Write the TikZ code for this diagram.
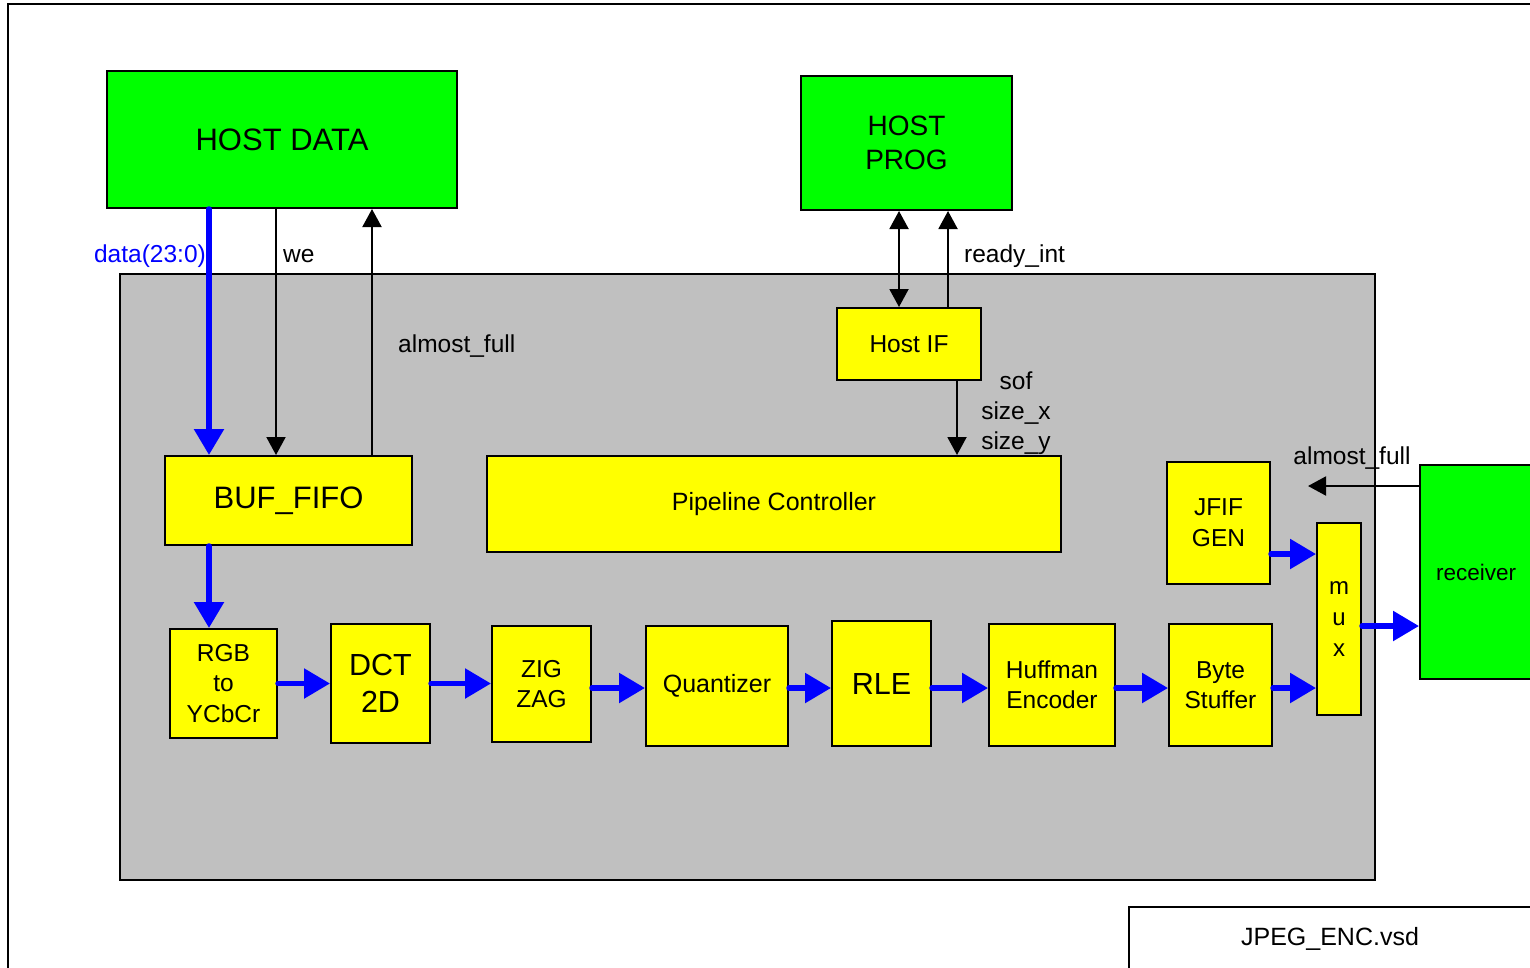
\documentclass[tikz,border=0pt]{standalone}
\usepackage{fontspec}
\setmainfont{Liberation Sans}
\usetikzlibrary{arrows.meta}
\definecolor{hgreen}{RGB}{0,255,0}
\definecolor{hyellow}{RGB}{255,255,0}
\definecolor{hgray}{RGB}{192,192,192}
\definecolor{hblue}{RGB}{0,0,255}
\tikzset{
  box/.style={draw=black, line width=2pt, inner sep=0pt, align=center},
  gbox/.style={box, fill=hgreen},
  ybox/.style={box, fill=hyellow},
  fnt/.style 2 args={font=\fontsize{#1}{#2}\selectfont},
  sig/.style={draw=black, line width=2pt, -{Triangle[length=18pt,width=19pt]}},
  sigboth/.style={draw=black, line width=2pt, {Triangle[length=18pt,width=19pt]}-{Triangle[length=18pt,width=19pt]}},
  bus/.style={draw=hblue, line width=5.5pt, line cap=round, -{Triangle[length=26pt,width=29pt]}},
  lbl/.style={inner sep=0pt, fnt={24.5}{30}},
}
\begin{document}
\begin{tikzpicture}[x=1pt, y=-1pt]
\useasboundingbox (0,0) rectangle (1530,967);
\clip (0,0) rectangle (1530,967);
\fill[white] (0,0) rectangle (1530,967);

% outer frame
\draw[line width=2pt] (8,990) -- (8,4) -- (1550,4);

% encoder area
\node[box, fill=hgray, minimum width=1255, minimum height=606] (enc) at (747.5,577) {};

% green blocks
\node[gbox, fnt={31}{34}, minimum width=350, minimum height=137] (hd) at (282,139.5) {HOST DATA};
\node[gbox, fnt={28}{34}, minimum width=211, minimum height=134] (hp) at (906.5,143) {HOST\\PROG};
\node[gbox, fnt={22.5}{30}, minimum width=112, minimum height=214] (rcv) at (1476,572) {receiver};

% yellow blocks
\node[ybox, fnt={31}{34}, minimum width=247, minimum height=89] (fifo) at (288.5,500.5) {BUF\_FIFO};
\node[ybox, fnt={25}{30}, minimum width=574, minimum height=96] (pipe) at (774,504) {Pipeline Controller};
\node[ybox, fnt={24.5}{30}, minimum width=144, minimum height=72] (hif) at (909,344) {Host IF};
\node[ybox, fnt={24.5}{31}, minimum width=103, minimum height=122] (jfif) at (1218.5,523) {JFIF\\GEN};
\node[ybox, fnt={24}{31}, minimum width=44, minimum height=192] (mux) at (1339,619) {m\\u\\x};

\node[ybox, fnt={24.5}{30.5}, minimum width=107, minimum height=109] (rgb) at (223.5,683.5) {RGB\\to\\YCbCr};
\node[ybox, fnt={30.5}{37}, minimum width=99, minimum height=119] (dct) at (380.5,683.5) {DCT\\2D};
\node[ybox, fnt={24.5}{30}, minimum width=99, minimum height=116] (zig) at (541.5,684) {ZIG\\ZAG};
\node[ybox, fnt={25}{30}, minimum width=142, minimum height=120] (quant) at (717,686) {Quantizer};
\node[ybox, fnt={30.5}{36}, minimum width=99, minimum height=125] (rle) at (881.5,683.5) {RLE};
\node[ybox, fnt={24.5}{30}, minimum width=126, minimum height=122] (huff) at (1052,685) {Huffman\\Encoder};
\node[ybox, fnt={24.5}{30}, minimum width=103, minimum height=122] (byte) at (1220.5,685) {Byte\\Stuffer};

% title block
\draw[line width=2pt] (1550,907) -- (1129,907) -- (1129,990);
\node[lbl, fnt={25}{30}] (title) at (1330,939) {JPEG\_ENC.vsd};

% host data signals
\draw[bus] ([xshift=103]hd.south west) -- ([xshift=45]fifo.north west);
\draw[sig] ([xshift=170]hd.south west) -- ([xshift=112]fifo.north west);
\draw[sig] ([xshift=208]fifo.north west) -- ([xshift=266]hd.south west);
\node[lbl, anchor=east, text=hblue] (ldata) at (206,256) {data(23:0)};
\node[lbl, anchor=west] (lwe) at (283,256) {we};
\node[lbl, anchor=west] (laf) at (398,346) {almost\_full};

% host prog signals
\draw[sigboth] ([xshift=99]hp.south west) -- ([xshift=63]hif.north west);
\draw[sig] ([xshift=112]hif.north west) -- ([xshift=148]hp.south west);
\node[lbl, anchor=west] (lrdy) at (964,256) {ready\_int};
\draw[sig] ([xshift=121]hif.south west) -- ([xshift=471]pipe.north west);
\node[lbl, align=center] (lsz) at (1016,413) {sof\\size\_x\\size\_y};

% receiver almost_full
\coordinate (afend) at (1308,487);
\path ([yshift=-22]rcv.north west) coordinate (a1);
\draw[sig] (a1) -- (a1 -| afend);
\node[lbl] (laf2) at (1352,458) {almost\_full};

% data path
\draw[bus] ([xshift=45]fifo.south west) -- ([xshift=40]rgb.north west);
\draw[bus] (rgb.east) -- (rgb.east -| dct.west);
\draw[bus] (dct.east) -- (dct.east -| zig.west);
\path ([yshift=-4]zig.east) coordinate (z1);
\draw[bus] (z1) -- (z1 -| quant.west);
\path ([yshift=-2]quant.east) coordinate (q1);
\draw[bus] (q1) -- (q1 -| rle.west);
\path ([yshift=-4.5]rle.east) coordinate (r1);
\draw[bus] (r1) -- (r1 -| huff.west);
\path ([yshift=-3]huff.east) coordinate (h1);
\draw[bus] (h1) -- (h1 -| byte.west);
\path ([yshift=-3]byte.east) coordinate (b1);
\draw[bus] (b1) -- (b1 -| mux.west);
\path ([yshift=-31]jfif.east) coordinate (j1);
\draw[bus] (j1) -- (j1 -| mux.west);
\path ([yshift=-7]mux.east) coordinate (m1);
\draw[bus] (m1) -- (m1 -| rcv.west);
\end{tikzpicture}
\end{document}
